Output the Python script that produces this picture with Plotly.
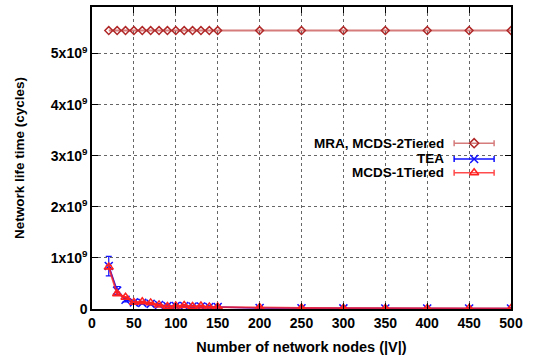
import plotly.graph_objects as go

nodes = [20, 30, 40, 50, 60, 70, 80, 90, 100, 110, 120, 130, 140, 150,
         200, 250, 300, 350, 400, 450, 500]
mra = [5.45e9] * len(nodes)
tea = [0.84e9, 0.36e9, 0.18e9, 0.13e9, 0.12e9, 0.10e9, 0.08e9, 0.06e9, 0.06e9, 0.06e9,
       0.05e9, 0.05e9, 0.04e9, 0.04e9, 0.02e9, 0.015e9, 0.012e9, 0.01e9, 0.01e9, 0.008e9, 0.008e9]
tea_err = [0.19e9, 0.08e9, 0.04e9, 0.03e9, 0.025e9, 0.02e9, 0.02e9, 0.02e9, 0.02e9, 0.02e9,
           0.02e9, 0.02e9, 0.02e9, 0.02e9, 0.01e9, 0.01e9, 0.01e9, 0.01e9, 0.01e9, 0.01e9, 0.01e9]
mcds1 = [0.82e9, 0.30e9, 0.23e9, 0.13e9, 0.14e9, 0.12e9, 0.08e9, 0.05e9, 0.06e9, 0.07e9,
         0.05e9, 0.06e9, 0.04e9, 0.04e9, 0.03e9, 0.02e9, 0.015e9, 0.012e9, 0.01e9, 0.01e9, 0.01e9]
mcds1_err = [0.03e9] * 2 + [0.01e9] * 19

x_ticks = [0, 50, 100, 150, 200, 250, 300, 350, 400, 450, 500]
y_ticks = [0, 1e9, 2e9, 3e9, 4e9, 5e9]
y_ticktext = ["0", "1x10<sup>9</sup>", "2x10<sup>9</sup>", "3x10<sup>9</sup>",
              "4x10<sup>9</sup>", "5x10<sup>9</sup>"]
legend_names = ["MRA, MCDS-2Tiered", "TEA", "MCDS-1Tiered"]

C_MRA_LINE = "rgba(200,80,80,0.75)"
C_MRA = "#b02828"
C_TEA = "#1010ff"
C_MCDS = "#ff2020"
C_MCDS_LINE = "rgba(255,30,30,0.8)"

fig = go.Figure()
fig.add_trace(go.Scatter(x=nodes, y=mra, mode="lines+markers",
                         line=dict(color=C_MRA_LINE, width=1.8),
                         marker=dict(symbol="diamond-open", size=6, color=C_MRA, line=dict(width=1.5, color=C_MRA)),
                         showlegend=False))
fig.add_trace(go.Scatter(x=nodes, y=tea, mode="lines+markers",
                         line=dict(color=C_TEA, width=1.5),
                         marker=dict(symbol="x-thin", size=8, color=C_TEA, line=dict(width=1.5, color=C_TEA)),
                         error_y=dict(type="data", array=tea_err, color=C_TEA, thickness=1.2, width=3),
                         showlegend=False))
fig.add_trace(go.Scatter(x=nodes, y=mcds1, mode="lines+markers",
                         line=dict(color=C_MCDS_LINE, width=2),
                         marker=dict(symbol="triangle-up-open", size=8, color=C_MCDS, line=dict(width=1.5, color=C_MCDS)),
                         error_y=dict(type="data", array=mcds1_err, color=C_MCDS, thickness=1.2, width=3),
                         showlegend=False))

# custom gnuplot-style key (text right-aligned, sample on the right) on an overlay axis
key_y = [0.549, 0.497, 0.451]
key_sym = ["diamond-open", "x-thin", "triangle-up-open"]
key_size = [7, 8, 8]
key_col = [C_MRA, C_TEA, C_MCDS]
key_line = [C_MRA_LINE, C_TEA, C_MCDS_LINE]
for name, ky, sym, sz, col, lc in zip(legend_names, key_y, key_sym, key_size, key_col, key_line):
    fig.add_trace(go.Scatter(x=[0.912], y=[ky], xaxis="x2", yaxis="y2", mode="markers",
                             marker=dict(symbol=sym, size=sz, color=col, line=dict(width=1.5, color=col)),
                             error_x=dict(type="constant", value=0.0477, color=lc, thickness=1.5, width=3),
                             showlegend=False, hoverinfo="skip"))
    fig.add_annotation(x=0.845, y=ky, xref="x2", yref="y2", text=name, showarrow=False,
                       xanchor="right", yanchor="middle",
                       font=dict(size=13.5, color="black", family="Liberation Sans", weight="bold"))

fig.update_layout(
    width=542, height=360,
    margin=dict(l=92, r=31, t=5, b=51),
    paper_bgcolor="white", plot_bgcolor="white",
    font=dict(family="Liberation Sans, Arial, sans-serif", size=14, color="black", weight="bold"),
    showlegend=False,
    xaxis=dict(range=[0, 500], tickvals=x_ticks, ticks="inside", ticklen=6, tickcolor="black",
               showline=True, linecolor="black", linewidth=1.5, mirror="ticks",
               showgrid=True, gridcolor="#666666", griddash="dot", gridwidth=1, zeroline=False,
               tickfont=dict(size=14),
               title=dict(text="Number of network nodes (|V|)", standoff=12,
                          font=dict(size=14.5, weight="bold"))),
    yaxis=dict(range=[0, 5.91e9], tickvals=y_ticks, ticktext=y_ticktext, ticks="inside", ticklen=6,
               tickcolor="black", showline=True, linecolor="black", linewidth=1.5, mirror="ticks",
               showgrid=True, gridcolor="#666666", griddash="dot", gridwidth=1, zeroline=False,
               tickfont=dict(size=14),
               title=dict(text="Network life time (cycles)", standoff=23,
                          font=dict(size=13.5, weight="bold"))),
    xaxis2=dict(range=[0, 1], overlaying="x", visible=False, fixedrange=True),
    yaxis2=dict(range=[0, 1], overlaying="y", visible=False, fixedrange=True),
)

fig.write_html("out.html")
